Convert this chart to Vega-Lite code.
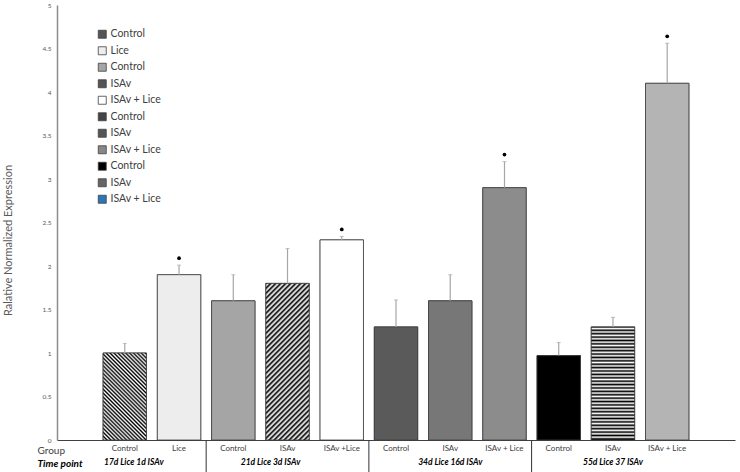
{
 "$schema": "https://vega.github.io/schema/vega-lite/v6.json",
 "autosize": "none",
 "width": 678,
 "height": 435,
 "padding": {"left": 57, "top": 5, "right": 5, "bottom": 32},
 "background": "white",
 "config": {"view": {"stroke": null}, "font": "Lato"},
 "datasets": {
  "bars": [
   {"key": "01|Control|Control|17d Lice 1d ISAv", "value": 1.0, "err": 1.11, "sig": false},
   {"key": "02|Lice|Lice|17d Lice 1d ISAv", "value": 1.9, "err": 2.01, "sig": true},
   {"key": "03|Control|Control|21d Lice 3d ISAv", "value": 1.6, "err": 1.9, "sig": false},
   {"key": "04|ISAv|ISAv|21d Lice 3d ISAv", "value": 1.8, "err": 2.2, "sig": false},
   {"key": "05|ISAv +Lice|ISAv + Lice|21d Lice 3d ISAv", "value": 2.3, "err": 2.34, "sig": true},
   {"key": "06|Control|Control|34d Lice 16d ISAv", "value": 1.3, "err": 1.61, "sig": false},
   {"key": "07|ISAv|ISAv|34d Lice 16d ISAv", "value": 1.6, "err": 1.9, "sig": false},
   {"key": "08|ISAv + Lice|ISAv + Lice|34d Lice 16d ISAv", "value": 2.9, "err": 3.2, "sig": true},
   {"key": "09|Control|Control|55d Lice 37 ISAv", "value": 0.97, "err": 1.12, "sig": false},
   {"key": "10|ISAv|ISAv|55d Lice 37 ISAv", "value": 1.3, "err": 1.41, "sig": false},
   {"key": "11|ISAv + Lice|ISAv + Lice|55d Lice 37 ISAv", "value": 4.1, "err": 4.56, "sig": true}
  ],
  "separators": [
   {"key": "03|Control|Control|21d Lice 3d ISAv"},
   {"key": "06|Control|Control|34d Lice 16d ISAv"},
   {"key": "09|Control|Control|55d Lice 37 ISAv"}
  ]
 },
 "data": {"name": "bars"},
 "resolve": {"axis": {"x": "independent", "y": "independent"}},
 "layer": [
  {
   "mark": {"type": "bar", "stroke": "#404040", "strokeWidth": 0.8},
   "encoding": {
    "x": {"field": "key", "type": "nominal",
     "scale": {"type": "band", "paddingInner": 0.2, "paddingOuter": 0.85},
     "axis": {"orient": "bottom", "labelExpr": "split(datum.label,'|')[1]", "labelAngle": 0, "ticks": false,
      "domainColor": "#404040", "domainWidth": 1, "labelFontSize": 8, "labelColor": "#404040", "labelPadding": 4, "labelOverlap": false,
      "title": "Group", "titleX": -20, "titleY": 10, "titleAlign": "left", "titleBaseline": "middle", "titleFontSize": 10,
      "titleFontWeight": "normal", "titleColor": "#404040"}},
    "y": {"field": "value", "type": "quantitative", "scale": {"domain": [0, 5]},
     "axis": {"orient": "left", "values": [0, 0.5, 1, 1.5, 2, 2.5, 3, 3.5, 4, 4.5, 5], "format": "~g", "ticks": false, "grid": false,
      "domainColor": "#8c8c8c", "domainWidth": 1.5, "labelFontSize": 6.5, "labelColor": "#595959", "labelPadding": 6,
      "title": "Ralative Normalized Expression", "titleFontSize": 11, "titleFontWeight": "normal", "titleColor": "#595959",
      "titleX": -49, "titleY": 235, "titleAlign": "center", "titleBaseline": "middle", "titleAngle": -90}},
    "fill": {"field": "key", "type": "nominal",
     "scale": {"range": ["#555555", "#eeeeee", "#a5a5a5", "#555555", "#ffffff", "#444444", "#555555", "#888888", "#000000", "#666666", "#2e75b6"]},
     "legend": {"title": null, "orient": "none", "legendX": 40, "legendY": 24, "padding": 0, "symbolType": "square", "symbolSize": 64,
      "symbolStrokeColor": "#404040", "symbolStrokeWidth": 0.8, "labelFontSize": 10.5, "labelColor": "#404040", "labelOffset": 3,
      "rowPadding": 4.5, "labelExpr": "split(datum.label,'|')[2]"}}
   }
  },
  {
   "mark": {"type": "bar", "stroke": "#404040", "strokeWidth": 0.8},
   "encoding": {
    "x": {"field": "key", "type": "nominal",
     "axis": {"orient": "bottom", "values": ["01|Control|Control|17d Lice 1d ISAv", "04|ISAv|ISAv|21d Lice 3d ISAv", "07|ISAv|ISAv|34d Lice 16d ISAv", "10|ISAv|ISAv|55d Lice 37 ISAv"],
      "labelExpr": "split(datum.label,'|')[3]", "labelAngle": 0, "ticks": false, "domain": false, "labelOverlap": false,
      "labelFontSize": 8.5, "labelFontWeight": "bold", "labelFontStyle": "italic", "labelColor": "#000000", "labelPadding": 17,
      "labelOffset": {"condition": [{"test": "indexof(datum.value,'01|')==0", "value": 9}, {"test": "indexof(datum.value,'04|')==0", "value": -17}], "value": 0},
      "title": "Time point", "titleX": -20, "titleY": 23, "titleAlign": "left", "titleBaseline": "middle", "titleFontSize": 10,
      "titleFontWeight": "bold", "titleFontStyle": "italic", "titleColor": "#000000"}},
    "y": {"field": "value", "type": "quantitative", "axis": null},
    "color": {"field": "key", "type": "nominal", "legend": null,
     "scale": {"range": ["#555555", "#ededed", "#a5a5a5", "#555555", "#ffffff", "#5a5a5a", "#777777", "#8c8c8c", "#000000", "#777777", "#b4b4b4"]},
     "condition": [
      {"test": "indexof(datum.key,'01|')==0", "value": {"gradient": "linear", "x1": 0, "y1": 1, "x2": 0.599, "y2": -0.2, "stops": [{"offset":0,"color":"#000"},{"offset":0.015,"color":"#fff"},{"offset":0.03,"color":"#000"},{"offset":0.045,"color":"#fff"},{"offset":0.06,"color":"#000"},{"offset":0.075,"color":"#fff"},{"offset":0.09,"color":"#000"},{"offset":0.105,"color":"#fff"},{"offset":0.12,"color":"#000"},{"offset":0.135,"color":"#fff"},{"offset":0.15,"color":"#000"},{"offset":0.165,"color":"#fff"},{"offset":0.18,"color":"#000"},{"offset":0.195,"color":"#fff"},{"offset":0.21,"color":"#000"},{"offset":0.225,"color":"#fff"},{"offset":0.24,"color":"#000"},{"offset":0.255,"color":"#fff"},{"offset":0.27,"color":"#000"},{"offset":0.285,"color":"#fff"},{"offset":0.3,"color":"#000"},{"offset":0.315,"color":"#fff"},{"offset":0.33,"color":"#000"},{"offset":0.345,"color":"#fff"},{"offset":0.36,"color":"#000"},{"offset":0.375,"color":"#fff"},{"offset":0.39,"color":"#000"},{"offset":0.405,"color":"#fff"},{"offset":0.42,"color":"#000"},{"offset":0.435,"color":"#fff"},{"offset":0.45,"color":"#000"},{"offset":0.465,"color":"#fff"},{"offset":0.48,"color":"#000"},{"offset":0.495,"color":"#fff"},{"offset":0.51,"color":"#000"},{"offset":0.525,"color":"#fff"},{"offset":0.54,"color":"#000"},{"offset":0.555,"color":"#fff"},{"offset":0.57,"color":"#000"},{"offset":0.585,"color":"#fff"},{"offset":0.6,"color":"#000"},{"offset":0.615,"color":"#fff"},{"offset":0.63,"color":"#000"},{"offset":0.645,"color":"#fff"},{"offset":0.66,"color":"#000"},{"offset":0.675,"color":"#fff"},{"offset":0.69,"color":"#000"},{"offset":0.705,"color":"#fff"},{"offset":0.72,"color":"#000"},{"offset":0.735,"color":"#fff"},{"offset":0.75,"color":"#000"},{"offset":0.765,"color":"#fff"},{"offset":0.78,"color":"#000"},{"offset":0.795,"color":"#fff"},{"offset":0.81,"color":"#000"},{"offset":0.825,"color":"#fff"},{"offset":0.84,"color":"#000"},{"offset":0.855,"color":"#fff"},{"offset":0.87,"color":"#000"},{"offset":0.885,"color":"#fff"},{"offset":0.9,"color":"#000"},{"offset":0.915,"color":"#fff"},{"offset":0.93,"color":"#000"},{"offset":0.945,"color":"#fff"},{"offset":0.96,"color":"#000"},{"offset":0.975,"color":"#fff"},{"offset":0.99,"color":"#000"}]}},
      {"test": "indexof(datum.key,'04|')==0", "value": {"gradient": "linear", "x1": 0, "y1": 0, "x2": 0.329, "y2": 1.186, "stops": [{"offset":0,"color":"#000"},{"offset":0.0125,"color":"#fff"},{"offset":0.025,"color":"#000"},{"offset":0.0375,"color":"#fff"},{"offset":0.05,"color":"#000"},{"offset":0.0625,"color":"#fff"},{"offset":0.075,"color":"#000"},{"offset":0.0875,"color":"#fff"},{"offset":0.1,"color":"#000"},{"offset":0.1125,"color":"#fff"},{"offset":0.125,"color":"#000"},{"offset":0.1375,"color":"#fff"},{"offset":0.15,"color":"#000"},{"offset":0.1625,"color":"#fff"},{"offset":0.175,"color":"#000"},{"offset":0.1875,"color":"#fff"},{"offset":0.2,"color":"#000"},{"offset":0.2125,"color":"#fff"},{"offset":0.225,"color":"#000"},{"offset":0.2375,"color":"#fff"},{"offset":0.25,"color":"#000"},{"offset":0.2625,"color":"#fff"},{"offset":0.275,"color":"#000"},{"offset":0.2875,"color":"#fff"},{"offset":0.3,"color":"#000"},{"offset":0.3125,"color":"#fff"},{"offset":0.325,"color":"#000"},{"offset":0.3375,"color":"#fff"},{"offset":0.35,"color":"#000"},{"offset":0.3625,"color":"#fff"},{"offset":0.375,"color":"#000"},{"offset":0.3875,"color":"#fff"},{"offset":0.4,"color":"#000"},{"offset":0.4125,"color":"#fff"},{"offset":0.425,"color":"#000"},{"offset":0.4375,"color":"#fff"},{"offset":0.45,"color":"#000"},{"offset":0.4625,"color":"#fff"},{"offset":0.475,"color":"#000"},{"offset":0.4875,"color":"#fff"},{"offset":0.5,"color":"#000"},{"offset":0.5125,"color":"#fff"},{"offset":0.525,"color":"#000"},{"offset":0.5375,"color":"#fff"},{"offset":0.55,"color":"#000"},{"offset":0.5625,"color":"#fff"},{"offset":0.575,"color":"#000"},{"offset":0.5875,"color":"#fff"},{"offset":0.6,"color":"#000"},{"offset":0.6125,"color":"#fff"},{"offset":0.625,"color":"#000"},{"offset":0.6375,"color":"#fff"},{"offset":0.65,"color":"#000"},{"offset":0.6625,"color":"#fff"},{"offset":0.675,"color":"#000"},{"offset":0.6875,"color":"#fff"},{"offset":0.7,"color":"#000"},{"offset":0.7125,"color":"#fff"},{"offset":0.725,"color":"#000"},{"offset":0.7375,"color":"#fff"},{"offset":0.75,"color":"#000"},{"offset":0.7625,"color":"#fff"},{"offset":0.775,"color":"#000"},{"offset":0.7875,"color":"#fff"},{"offset":0.8,"color":"#000"},{"offset":0.8125,"color":"#fff"},{"offset":0.825,"color":"#000"},{"offset":0.8375,"color":"#fff"},{"offset":0.85,"color":"#000"},{"offset":0.8625,"color":"#fff"},{"offset":0.875,"color":"#000"},{"offset":0.8875,"color":"#fff"},{"offset":0.9,"color":"#000"},{"offset":0.9125,"color":"#fff"},{"offset":0.925,"color":"#000"},{"offset":0.9375,"color":"#fff"},{"offset":0.95,"color":"#000"},{"offset":0.9625,"color":"#fff"},{"offset":0.975,"color":"#000"},{"offset":0.9875,"color":"#fff"},{"offset":1,"color":"#000"}]}},
      {"test": "indexof(datum.key,'10|')==0", "value": {"gradient": "linear", "x1": 0, "y1": 0, "x2": 0, "y2": 1, "stops": [{"offset":0,"color":"#000"},{"offset":0.015,"color":"#fff"},{"offset":0.03,"color":"#000"},{"offset":0.045,"color":"#fff"},{"offset":0.06,"color":"#000"},{"offset":0.075,"color":"#fff"},{"offset":0.09,"color":"#000"},{"offset":0.105,"color":"#fff"},{"offset":0.12,"color":"#000"},{"offset":0.135,"color":"#fff"},{"offset":0.15,"color":"#000"},{"offset":0.165,"color":"#fff"},{"offset":0.18,"color":"#000"},{"offset":0.195,"color":"#fff"},{"offset":0.21,"color":"#000"},{"offset":0.225,"color":"#fff"},{"offset":0.24,"color":"#000"},{"offset":0.255,"color":"#fff"},{"offset":0.27,"color":"#000"},{"offset":0.285,"color":"#fff"},{"offset":0.3,"color":"#000"},{"offset":0.315,"color":"#fff"},{"offset":0.33,"color":"#000"},{"offset":0.345,"color":"#fff"},{"offset":0.36,"color":"#000"},{"offset":0.375,"color":"#fff"},{"offset":0.39,"color":"#000"},{"offset":0.405,"color":"#fff"},{"offset":0.42,"color":"#000"},{"offset":0.435,"color":"#fff"},{"offset":0.45,"color":"#000"},{"offset":0.465,"color":"#fff"},{"offset":0.48,"color":"#000"},{"offset":0.495,"color":"#fff"},{"offset":0.51,"color":"#000"},{"offset":0.525,"color":"#fff"},{"offset":0.54,"color":"#000"},{"offset":0.555,"color":"#fff"},{"offset":0.57,"color":"#000"},{"offset":0.585,"color":"#fff"},{"offset":0.6,"color":"#000"},{"offset":0.615,"color":"#fff"},{"offset":0.63,"color":"#000"},{"offset":0.645,"color":"#fff"},{"offset":0.66,"color":"#000"},{"offset":0.675,"color":"#fff"},{"offset":0.69,"color":"#000"},{"offset":0.705,"color":"#fff"},{"offset":0.72,"color":"#000"},{"offset":0.735,"color":"#fff"},{"offset":0.75,"color":"#000"},{"offset":0.765,"color":"#fff"},{"offset":0.78,"color":"#000"},{"offset":0.795,"color":"#fff"},{"offset":0.81,"color":"#000"},{"offset":0.825,"color":"#fff"},{"offset":0.84,"color":"#000"},{"offset":0.855,"color":"#fff"},{"offset":0.87,"color":"#000"},{"offset":0.885,"color":"#fff"},{"offset":0.9,"color":"#000"},{"offset":0.915,"color":"#fff"},{"offset":0.93,"color":"#000"},{"offset":0.945,"color":"#fff"},{"offset":0.96,"color":"#000"},{"offset":0.975,"color":"#fff"},{"offset":0.99,"color":"#000"}]}}
     ]}
   }
  },
  {
   "mark": {"type": "rule", "color": "#a6a6a6", "strokeWidth": 1.2},
   "encoding": {
    "x": {"field": "key", "type": "nominal", "axis": null},
    "y": {"field": "value", "type": "quantitative", "axis": null},
    "y2": {"field": "err"}
   }
  },
  {
   "mark": {"type": "tick", "color": "#a6a6a6", "size": 4, "thickness": 1},
   "encoding": {
    "x": {"field": "key", "type": "nominal", "axis": null},
    "y": {"field": "err", "type": "quantitative", "axis": null}
   }
  },
  {
   "transform": [{"filter": "datum.sig"}],
   "mark": {"type": "point", "filled": true, "color": "#000000", "size": 14, "opacity": 1, "yOffset": -7},
   "encoding": {
    "x": {"field": "key", "type": "nominal", "axis": null},
    "y": {"field": "err", "type": "quantitative", "axis": null}
   }
  },
  {
   "data": {"name": "separators"},
   "mark": {"type": "rule", "color": "#333333", "strokeWidth": 1},
   "encoding": {
    "x": {"field": "key", "type": "nominal", "bandPosition": -0.125, "axis": null},
    "y": {"datum": 0, "type": "quantitative", "axis": null},
    "y2": {"datum": -0.37}
   }
  }
 ]
}
